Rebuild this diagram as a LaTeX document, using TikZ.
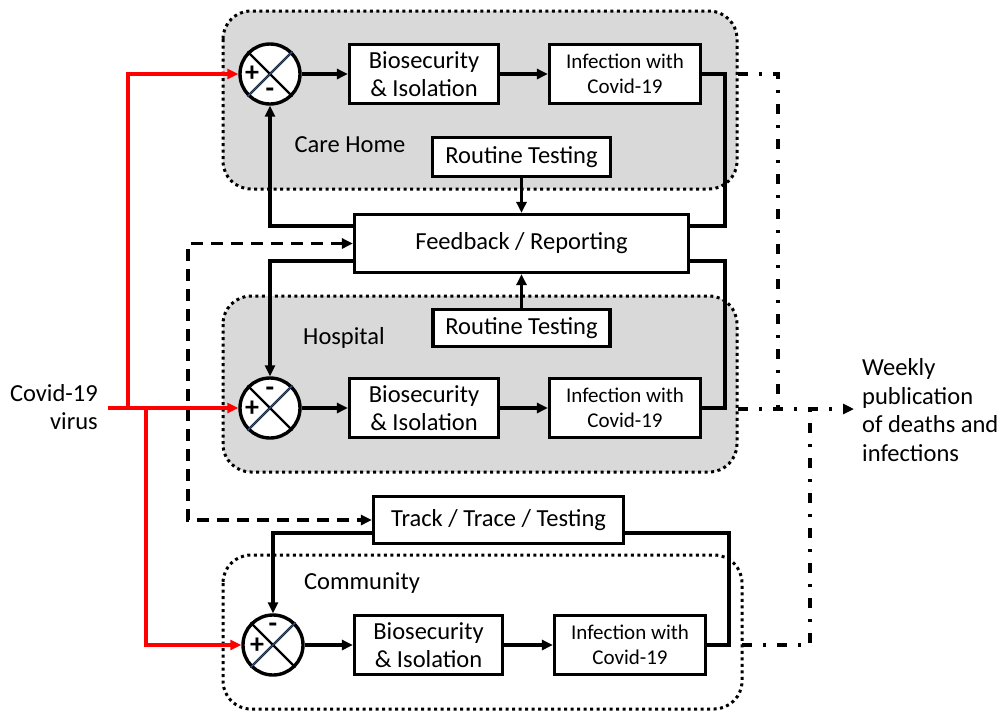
\documentclass[tikz,border=0pt]{standalone}
\usepackage{fontspec}
\setmainfont{Carlito}
\usetikzlibrary{arrows.meta,calc}
\definecolor{regiongray}{HTML}{D9D9D9}
\definecolor{xblue}{HTML}{2F5597}
\begin{document}
\begin{tikzpicture}[x=1pt,y=-1pt,
  big/.style={font=\fontsize{24.5}{28.5}\selectfont},
  small/.style={font=\fontsize{21}{25}\selectfont},
  txt/.style={inner sep=0pt},
  region/.style={draw, line width=3pt, dash pattern=on 3pt off 3.5pt, rounded corners=28pt},
  box/.style={draw, line width=3.2pt, fill=white, align=center, inner sep=0pt},
  sumj/.style={draw, circle, line width=3.4pt, fill=white, minimum size=60pt, inner sep=0pt},
  tip/.style={-{Triangle[length=11pt,width=10pt]}},
  plain/.style={line width=3.2pt},
  conn/.style={plain, tip},
  redconn/.style={line width=3.2pt, red, -{Triangle[length=11pt,width=10pt]}},
  dashedconn/.style={line width=3.2pt, dash pattern=on 12pt off 8pt, {Triangle[length=11pt,width=10pt]}-{Triangle[length=11pt,width=10pt]}},
  dashdot/.style={line width=3.2pt, dash pattern=on 10pt off 11pt on 3pt off 11pt},
  sign/.style={inner sep=0pt, font=\fontsize{28}{28}\bfseries\selectfont},
]
\useasboundingbox (0,0) rectangle (1002,713);
% regions
\draw[region, fill=regiongray] (223,11) rectangle (737,189);
\draw[region, fill=regiongray] (223,296) rectangle (737,472);
\draw[region] (223,555) rectangle (742,709);

% care home
\node[sumj] (s1) at (270,74) {};
\node[box, big, minimum width=149pt, minimum height=59pt] (b1) at (424,74) {Biosecurity\\\& Isolation};
\node[box, small, minimum width=151pt, minimum height=59pt] (i1) at (625,74) {Infection with\\Covid-19};
\node[box, big, minimum width=178pt, minimum height=39pt] (r1) at (521.5,157) {Routine Testing};
\node[txt, big] (lab1) at (350,145) {Care Home};

% feedback
\node[box, big, minimum width=334pt, minimum height=58pt] (fb) at (521.5,243.5) {Feedback / Reporting};

% hospital
\node[box, big, minimum width=177pt, minimum height=37pt] (r2) at (521.5,328) {Routine Testing};
\node[txt, big] (lab2) at (344,338) {Hospital};
\node[sumj] (s2) at (270,408) {};
\node[box, big, minimum width=149pt, minimum height=59pt] (b2) at (424,408) {Biosecurity\\\& Isolation};
\node[box, small, minimum width=151pt, minimum height=59pt] (i2) at (625,408) {Infection with\\Covid-19};

% community
\node[box, big, minimum width=250pt, minimum height=47pt] (tt) at (498.5,520) {Track / Trace / Testing};
\node[txt, big] (lab3) at (362,583) {Community};
\node[sumj] (s3) at (273,645) {};
\node[box, big, minimum width=148pt, minimum height=59pt] (b3) at (428.5,645) {Biosecurity\\\& Isolation};
\node[box, small, minimum width=151pt, minimum height=59pt] (i3) at (630,645) {Infection with\\Covid-19};

% summing junctions
\foreach \s in {s1,s2,s3}{
  \draw[line width=2.2pt] (\s.45) -- (\s.225);
  \draw[line width=2.2pt] (\s.135) -- (\s.315);
  \draw[xblue, line width=1.2pt] (\s.45) -- (\s.225);
}
\node[sign] (p1) at ($(s1)+(-18,0)$) {+};
\node[sign] (m1) at ($(s1)+(0,19)$) {-};
\node[sign] (p2) at ($(s2)+(-18,1)$) {+};
\node[sign] (m2) at ($(s2)+(0,-16)$) {-};
\node[sign] (p3) at ($(s3)+(-16,1)$) {+};
\node[sign] (m3) at ($(s3)+(0,-17)$) {-};

% forward path
\draw[conn] (s1.east) -- (b1.west);
\draw[conn] (b1.east) -- (i1.west);
\draw[conn] (s2.east) -- (b2.west);
\draw[conn] (b2.east) -- (i2.west);
\draw[conn] (s3.east) -- (b3.west);
\draw[conn] (b3.east) -- (i3.west);

% feedback loops
\coordinate (rA) at (725,226);
\coordinate (rB) at (725,261);
\coordinate (lA) at (270,226);
\coordinate (lB) at (270,261);
\draw[plain] (i1.east) -| (rA) -- (fb.east |- rA);
\draw[plain] (fb.east |- rB) -- (rB) |- (i2.east);
\draw[conn] (fb.west |- lA) -| (s1.south);
\draw[conn] (fb.west |- lB) -| (s2.north);
\draw[conn] (r1.south) -- (fb.north -| r1.south);
\draw[conn] (r2.north) -- (fb.south -| r2.north);
\coordinate (dL) at (188,243.5);
\draw[dashedconn] (fb.west) -- (dL) |- (tt.west);
\coordinate (lC) at (273,533);
\coordinate (rC) at (729,533);
\draw[conn] (tt.west |- lC) -| (s3.north);
\draw[plain] (tt.east |- rC) -- (rC) |- (i3.east);

% virus input
\node[txt, big, align=right, anchor=east] (virus) at (98,407) {\fontsize{24.5}{27.5}\selectfont Covid-19\\virus};
\coordinate (v0) at (108,408);
\coordinate (vu) at (128,408);
\coordinate (vd) at (146,408);
\draw[redconn] (v0) -- (s2.west);
\draw[redconn] (vu) |- (s1.west);
\draw[redconn] (vd) |- (s3.west);

% publication
\node[txt, big, align=left, anchor=west] (pub) at (862,410) {\fontsize{24.5}{29.5}\selectfont Weekly\\publication\\of deaths and\\infections};
\coordinate (d1) at (738,74);
\coordinate (d1c) at (778,74);
\coordinate (d2) at (738,409);
\coordinate (j1) at (778,409);
\coordinate (d3) at (742,645);
\coordinate (d3c) at (810,645);
\coordinate (j3) at (810,409);
\draw[dashdot] (d1) -- (d1c) -- (j1);
\draw[dashdot, -{Triangle[length=11pt,width=10pt]}] (d2) -- ([xshift=-8pt]pub.west |- d2);
\draw[dashdot] (d3) -- (d3c) -- (j3);
\end{tikzpicture}
\end{document}
